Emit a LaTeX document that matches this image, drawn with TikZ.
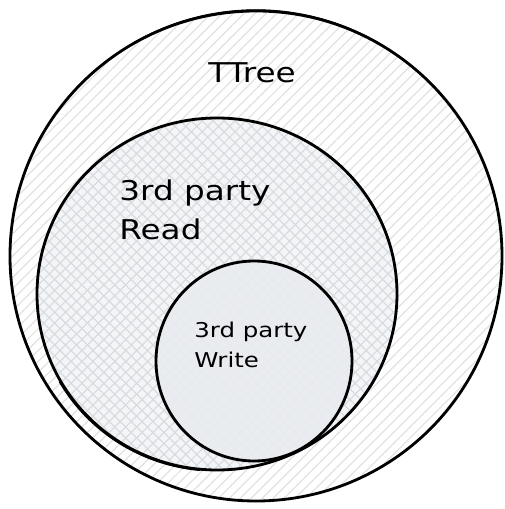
\documentclass[tikz,border=0pt]{standalone}
\usepackage{fontspec}
\newfontfamily\hand[FakeStretch=1.2]{DejaVu Sans}
\usetikzlibrary{patterns.meta}

\definecolor{hatchgray}{HTML}{E2E2E2}
\definecolor{crossgray}{HTML}{D8DCE0}
\definecolor{readbg}{HTML}{F4F5F7}
\definecolor{writebg}{HTML}{E9EDF1}

\begin{document}
\begin{tikzpicture}[
  x=0.02cm, y=-0.02cm,
  set/.style={draw=black, line width=1.6pt},
  retrace/.style={draw=black, line width=0.8pt},
  hatch/.style={pattern={Lines[angle=#1,distance=4.4pt,line width=0.7pt]}},
  big/.style={font=\hand\fontsize{15.5}{22.7}\selectfont, inner sep=0pt},
  small/.style={font=\hand\fontsize{11.6}{17}\selectfont, inner sep=0pt}
]
  \useasboundingbox (0,0) rectangle (504,509);

  % TTree
  \fill[white] (256,256) ellipse (246 and 245);
  \fill[hatch=45, pattern color=hatchgray] (256,256) ellipse (246 and 245);
  \draw[set] (256,256) ellipse (246 and 245);
  \draw[retrace] (256,258) ++(240:246 and 248) arc[start angle=240, end angle=300, x radius=246, y radius=248];

  % read
  \fill[readbg] (217,294) ellipse (180 and 176);
  \fill[hatch=45, pattern color=crossgray] (217,294) ellipse (180 and 176);
  \fill[hatch=-45, pattern color=crossgray] (217,294) ellipse (180 and 176);
  \draw[set] (217,294) ellipse (180 and 176);
  \draw[retrace] (216,292) ++(95:181 and 179) arc[start angle=95, end angle=150, x radius=181, y radius=179];

  % write
  \fill[writebg] (254,361) ellipse (98 and 100);
  \fill[hatch=45, pattern color=crossgray!60] (254,361) ellipse (98 and 100);
  \fill[hatch=-45, pattern color=crossgray!60] (254,361) ellipse (98 and 100);
  \draw[set] (254,361) ellipse (98 and 100);

  \node[big, anchor=base] (ttree) at (252,83) {TTree};
  \node[big, anchor=base west, align=left] (read) at (119,240) {3rd party\\Read};
  \node[small, anchor=base west, align=left] (write) at (194,367) {3rd party\\Write};
\end{tikzpicture}
\end{document}
